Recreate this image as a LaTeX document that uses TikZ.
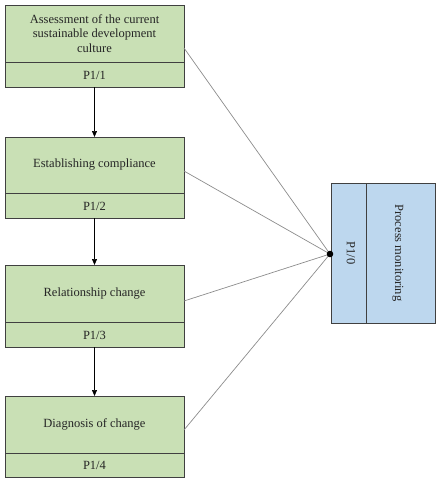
\documentclass[tikz,border=0pt]{standalone}
\usepackage{fontspec}
\setmainfont{Liberation Serif}
\usetikzlibrary{arrows.meta}
\definecolor{gfill}{HTML}{C9E0B5}
\definecolor{bfill}{HTML}{BDD7EE}
\definecolor{edge}{HTML}{404040}
\definecolor{lnk}{HTML}{8C8C8C}
\tikzset{
  gbox/.style={draw=edge, line width=0.9pt, fill=gfill, minimum width=179pt, inner sep=0pt, outer sep=0pt},
  bbox/.style={draw=edge, line width=0.9pt, fill=bfill, minimum width=104pt, minimum height=140pt, inner sep=0pt, outer sep=0pt},
  divline/.style={draw=edge, line width=0.6pt},
  txt/.style={font=\fontsize{12.5}{14.5}\selectfont, align=center, text=black!85, inner sep=0pt},
  flow/.style={draw=black, line width=0.7pt, -{Triangle[length=6pt,width=5pt]}},
  link/.style={draw=lnk, line width=0.7pt}
}
\begin{document}
\begin{tikzpicture}[x=1pt,y=-1pt]
\useasboundingbox (0,0) rectangle (442,480);
% green boxes
\node[gbox, minimum height=82pt] (b1) at (94.5,46) {};
\node[gbox, minimum height=81pt] (b2) at (94.5,177.5) {};
\node[gbox, minimum height=82pt] (b3) at (94.5,306) {};
\node[gbox, minimum height=81pt] (b4) at (94.5,436.5) {};
\draw[divline] (b1.west |- 0,62) -- (b1.east |- 0,62);
\draw[divline] (b2.west |- 0,193) -- (b2.east |- 0,193);
\draw[divline] (b3.west |- 0,322) -- (b3.east |- 0,322);
\draw[divline] (b4.west |- 0,453) -- (b4.east |- 0,453);
\node[txt] (t1) at (94.5,33.5) {Assessment of the current\\sustainable development\\culture};
\node[txt] (p1) at (94.5,75) {P1/1};
\node[txt] (t2) at (94.5,165) {Establishing compliance};
\node[txt] (p2) at (94.5,206) {P1/2};
\node[txt] (t3) at (94.5,294) {Relationship change};
\node[txt] (p3) at (94.5,335) {P1/3};
\node[txt] (t4) at (94.5,424) {Diagnosis of change};
\node[txt] (p4) at (94.5,465) {P1/4};
% blue box
\node[bbox] (m) at (383,253) {};
\draw[divline] (366,183) -- (366,323);
\node[txt, rotate=-90] (p0) at (351,253) {P1/0};
\node[txt, rotate=-90] (pm) at (398,253) {Process monitoring};
% flow arrows
\draw[flow] (b1.south) -- (b2.north);
\draw[flow] (b2.south) -- (b3.north);
\draw[flow] (b3.south) -- (b4.north);
% links to dot
\coordinate (d) at (330,254);
\coordinate (s1) at (184,48);
\coordinate (s2) at (184,171);
\coordinate (s3) at (184,301);
\coordinate (s4) at (184,430);
\draw[link] (s1) -- (d);
\draw[link] (s2) -- (d);
\draw[link] (s3) -- (d);
\draw[link] (s4) -- (d);
\fill[black] (d) circle (3.3pt);
\end{tikzpicture}
\end{document}
